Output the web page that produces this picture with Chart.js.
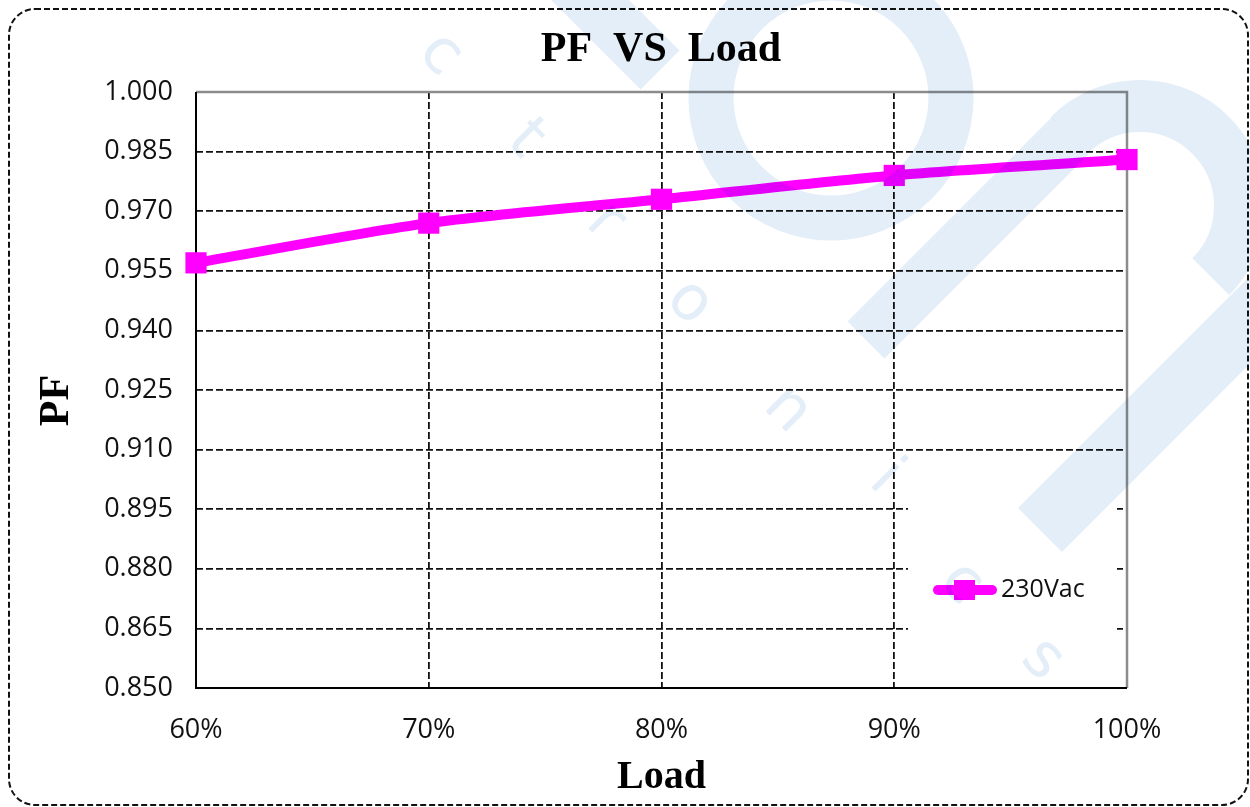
<!DOCTYPE html>
<html>
<head>
<meta charset="utf-8">
<script src="https://cdn.jsdelivr.net/npm/chart.js@4.4.1/dist/chart.umd.min.js"></script>
<style>
  html, body { margin: 0; padding: 0; background: #ffffff; }
  #wrap { position: relative; width: 1250px; height: 807px; }
</style>
</head>
<body>
<div id="wrap"><canvas id="c" width="1250" height="807"></canvas></div>
<script>
// ---- data ----
const loadLabels = ['60%', '70%', '80%', '90%', '100%'];
const pf230Vac = [0.957, 0.967, 0.973, 0.979, 0.983];
const seriesName = '230Vac';
const titleText = 'PF  VS  Load';
const yTitle = 'PF  ';
const xTitle = 'Load';
const yMin = 0.850, yMax = 1.000, yStep = 0.015;

const MAGENTA = '#ff00ff';
const WM = '#e3eef8';
const SERIF = '"Liberation Serif", "Times New Roman", serif';
const SANS = '"Open Sans", "DejaVu Sans", sans-serif';

const watermark = {
  id: 'watermark',
  beforeDraw(chart) {
    const ctx = chart.ctx;
    ctx.save();
    ctx.fillStyle = '#ffffff';
    ctx.fillRect(0, 0, chart.width, chart.height);
    ctx.restore();
  },
  afterDraw(chart) {
    const ctx = chart.ctx;
    ctx.save();
    ctx.globalCompositeOperation = 'multiply';
    ctx.strokeStyle = WM;
    ctx.lineCap = 'butt';
    // upper-left short band
    ctx.lineWidth = 55;
    ctx.beginPath();
    ctx.moveTo(560, -30);
    ctx.lineTo(660, 70);
    ctx.stroke();
    // ring
    ctx.lineWidth = 45;
    ctx.beginPath();
    ctx.arc(831, 98, 120, 0, Math.PI * 2);
    ctx.stroke();
    // stem band
    ctx.lineWidth = 52;
    ctx.beginPath();
    ctx.moveTo(866, 340);
    ctx.lineTo(1070, 136);
    ctx.stroke();
    // second hump arc
    ctx.beginPath();
    ctx.arc(1140, 206, 100, Math.PI * 1.25, Math.PI * 2.25);
    ctx.stroke();
    // lower band
    ctx.lineWidth = 62;
    ctx.beginPath();
    ctx.moveTo(1040, 530);
    ctx.lineTo(1270, 300);
    ctx.stroke();
    // letters
    ctx.fillStyle = WM;
    ctx.font = '62px "DejaVu Sans"';
    ctx.textAlign = 'center';
    ctx.textBaseline = 'middle';
    const letters = [['c',440,55],['t',525,140],['r',605,222],['o',689,303],['n',787,410],['i',885,478],['c',961,584],['s',1042,660]];
    letters.forEach(([t,x,y]) => {
      ctx.save();
      ctx.translate(x, y);
      ctx.rotate(Math.PI / 4);
      ctx.fillText(t, 0, 0);
      ctx.restore();
    });
    ctx.restore();
    // outer dashed rounded frame
    ctx.save();
    ctx.strokeStyle = '#111';
    ctx.lineWidth = 2;
    ctx.setLineDash([6, 3]);
    ctx.beginPath();
    ctx.roundRect(9, 9, 1239, 796, 26);
    ctx.stroke();
    ctx.restore();
  }
};

const frame = {
  id: 'frame',
  beforeDatasetsDraw(chart) {
    const {ctx, chartArea: a} = chart;
    ctx.save();
    ctx.strokeStyle = '#8c8c8c';
    ctx.lineWidth = 2.5;
    ctx.setLineDash([]);
    ctx.beginPath();
    ctx.moveTo(a.left, a.top);
    ctx.lineTo(a.right, a.top);
    ctx.lineTo(a.right, a.bottom);
    ctx.stroke();
    ctx.strokeStyle = '#000';
    ctx.lineWidth = 2;
    ctx.beginPath();
    ctx.moveTo(a.left, a.top);
    ctx.lineTo(a.left, a.bottom);
    ctx.lineTo(a.right, a.bottom);
    ctx.stroke();
    ctx.restore();
  },
  afterDatasetsDraw(chart) {
    const {ctx} = chart;
    const ds = chart.data.datasets[0];
    ctx.save();
    ctx.fillStyle = '#ffffff';
    ctx.fillRect(908, 480, 209, 170);
    ctx.strokeStyle = ds.borderColor;
    ctx.lineWidth = ds.borderWidth;
    ctx.lineCap = 'round';
    ctx.beginPath();
    ctx.moveTo(938, 590);
    ctx.lineTo(992, 590);
    ctx.stroke();
    ctx.fillStyle = ds.pointBackgroundColor;
    ctx.fillRect(954, 580, 21, 20);
    ctx.fillStyle = '#111';
    ctx.font = '25px ' + SANS;
    ctx.textAlign = 'left';
    ctx.textBaseline = 'middle';
    ctx.fillText(ds.label, 1001, 590);
    ctx.restore();
  }
};

new Chart(document.getElementById('c'), {
  type: 'line',
  data: {
    labels: loadLabels,
    datasets: [{
      label: seriesName,
      data: pf230Vac,
      yAxisID: 'y',
      borderColor: MAGENTA,
      backgroundColor: MAGENTA,
      pointBackgroundColor: MAGENTA,
      pointBorderColor: MAGENTA,
      borderWidth: 10,
      pointStyle: 'rect',
      pointRadius: 15,
      pointBorderWidth: 0,
      tension: 0.3,
      clip: false
    }]
  },
  plugins: [watermark, frame],
  options: {
    responsive: false,
    animation: false,
    devicePixelRatio: 1,
    layout: { padding: { left: 72, right: 0, top: 0, bottom: 0 } },
    plugins: {
      legend: { display: false },
      tooltip: { enabled: false },
      title: {
        display: true,
        text: titleText,
        color: '#000',
        font: { family: SERIF, size: 42, weight: 'bold' },
        padding: { top: 25, bottom: 16.6 }
      }
    },
    scales: {
      x: {
        type: 'category',
        offset: false,
        grid: { color: '#111', lineWidth: 1.8, drawTicks: false },
        border: { display: false, dash: [7, 3] },
        ticks: { color: '#111', font: { family: SANS, size: 27 }, padding: 26, maxRotation: 0 },
        title: {
          display: true, text: xTitle, color: '#000',
          font: { family: SERIF, size: 40, weight: 'bold' },
          padding: { top: 0, bottom: 5 }
        },
        afterFit(s) { s.height = 119; }
      },
      y: {
        min: yMin, max: yMax,
        grid: { color: '#111', lineWidth: 1.8, drawTicks: false },
        border: { display: false, dash: [7, 3] },
        ticks: {
          stepSize: yStep, color: '#111', padding: 23,
          font: { family: SANS, size: 27 },
          callback: v => Number(v).toFixed(3)
        },
        title: {
          display: true, text: yTitle, color: '#000',
          font: { family: SERIF, size: 42, weight: 'bold' },
          padding: { top: -40.2, bottom: 0 }
        },
        afterFit(s) { s.width = 124; }
      },
      yRight: {
        position: 'right',
        display: true,
        grid: { display: false, drawTicks: false },
        border: { display: false },
        ticks: { display: false },
        afterFit(s) { s.width = 123; }
      }
    }
  }
});
</script>
</body>
</html>
